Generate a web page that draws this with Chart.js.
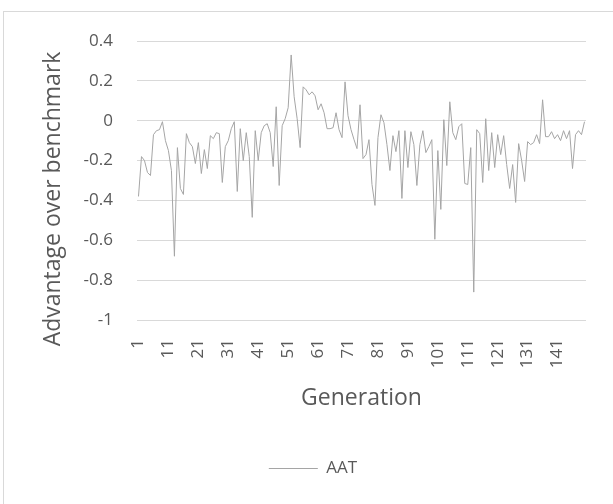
<!DOCTYPE html>
<html>
<head>
<meta charset="utf-8">
<script src="https://cdn.jsdelivr.net/npm/chart.js@4.4.1/dist/chart.umd.min.js"></script>
<style>
  html, body { margin: 0; padding: 0; background: #ffffff; overflow: hidden; }
  #frame { position: absolute; left: 3px; top: 11px; width: 620px; height: 500px; border: 1px solid #d9d9d9; }
  #wrap { position: absolute; left: 0; top: 0; width: 613px; height: 504px; }
</style>
</head>
<body>
<div id="frame"></div>
<div id="wrap"><canvas id="chart"></canvas></div>
<script>
// Generations 1..150 (category axis)
const generations = Array.from({ length: 150 }, (_, i) => i + 1);

// AAT advantage over benchmark
const aatValues = [
    -0.38, -0.18, -0.20, -0.26, -0.275, -0.07, -0.05, -0.045, -0.005, -0.10,
    -0.15, -0.25, -0.68, -0.135, -0.34, -0.37, -0.065, -0.11, -0.13, -0.215,
    -0.11, -0.265, -0.145, -0.24, -0.075, -0.09, -0.06, -0.065, -0.31, -0.13,
    -0.10, -0.04, -0.005, -0.355, -0.04, -0.20, -0.06, -0.18, -0.485, -0.05,
    -0.20, -0.06, -0.025, -0.015, -0.06, -0.23, 0.07, -0.325, -0.025, 0.01,
    0.065, 0.33, 0.12, 0.01, -0.135, 0.17, 0.155, 0.13, 0.145, 0.125,
    0.055, 0.085, 0.04, -0.04, -0.04, -0.035, 0.04, -0.045, -0.085, 0.195,
    0.025, -0.045, -0.095, -0.14, 0.08, -0.19, -0.17, -0.095, -0.32, -0.425,
    -0.085, 0.03, -0.01, -0.12, -0.25, -0.075, -0.155, -0.05, -0.39, -0.05,
    -0.235, -0.055, -0.12, -0.325, -0.12, -0.05, -0.16, -0.13, -0.095, -0.595,
    -0.15, -0.445, 0.005, -0.225, 0.095, -0.06, -0.095, -0.03, -0.015, -0.315,
    -0.32, -0.135, -0.86, -0.045, -0.065, -0.31, 0.01, -0.25, -0.06, -0.235,
    -0.07, -0.17, -0.075, -0.22, -0.34, -0.22, -0.41, -0.115, -0.20, -0.305,
    -0.105, -0.12, -0.11, -0.07, -0.115, 0.105, -0.08, -0.08, -0.055, -0.09,
    -0.07, -0.10, -0.05, -0.09, -0.05, -0.24, -0.07, -0.05, -0.07, -0.005
];

const seriesName = 'AAT';
const yTitle = 'Advantage over benchmark';
const xTitle = 'Generation';

const textColor = '#595959';
const gridColor = '#d9d9d9';
const lineColor = '#a5a5a5';
const fontFamily = "'Open Sans', 'Noto Sans', sans-serif";

// plot area edges
const plotLeft = 137;
const plotBottom = 320;
const padLeft = 40;
const padBottom = 17;

// y-axis title, drawn by hand so it sits where the original has it
const yTitlePlugin = {
    id: 'yTitle',
    afterDraw(chart) {
        const ctx = chart.ctx;
        ctx.save();
        ctx.translate(53, 199);
        ctx.rotate(-Math.PI / 2);
        ctx.fillStyle = textColor;
        ctx.font = `23px ${fontFamily}`;
        ctx.textAlign = 'center';
        ctx.textBaseline = 'middle';
        ctx.fillText(yTitle, 0, 0);
        ctx.restore();
    }
};

new Chart(document.getElementById('chart'), {
    type: 'line',
    data: {
        labels: generations,
        datasets: [{
            label: seriesName,
            data: aatValues,
            borderColor: lineColor,
            backgroundColor: lineColor,
            borderWidth: 1,
            pointRadius: 0,
            tension: 0,
            fill: false
        }]
    },
    options: {
        responsive: true,
        maintainAspectRatio: false,
        animation: false,
        layout: {
            padding: { left: padLeft, right: 27, top: 41, bottom: padBottom }
        },
        plugins: {
            legend: {
                display: true,
                position: 'bottom',
                labels: {
                    color: textColor,
                    font: { family: fontFamily, size: 17 },
                    usePointStyle: true,
                    pointStyle: 'line',
                    pointStyleWidth: 49,
                    padding: 10
                }
            },
            tooltip: { enabled: false }
        },
        scales: {
            x: {
                offset: true,
                grid: { display: false, drawTicks: false },
                border: { display: false },
                ticks: {
                    color: textColor,
                    font: { family: fontFamily, size: 17 },
                    autoSkip: false,
                    minRotation: 90,
                    maxRotation: 90,
                    padding: 19,
                    callback: function(value, index) {
                        return index % 10 === 0 ? this.getLabelForValue(value) : '';
                    }
                },
                title: {
                    display: true,
                    text: xTitle,
                    color: textColor,
                    font: { family: fontFamily, size: 23 },
                    padding: { top: 0, bottom: 38 }
                },
                afterFit(scale) {
                    const lg = scale.chart.legend;
                    scale.height = 504 - padBottom - (lg ? lg.height : 0) - plotBottom;
                    // keep the plot edges fixed, labels fit inside anyway
                    scale.paddingLeft = 0;
                    scale.paddingRight = 0;
                }
            },
            y: {
                min: -1,
                max: 0.4,
                grid: { color: gridColor, lineWidth: 1, drawTicks: false },
                border: { display: false },
                ticks: {
                    stepSize: 0.2,
                    color: textColor,
                    font: { family: fontFamily, size: 17 },
                    padding: 24,
                    callback: v => String(Math.round(v * 10) / 10)
                },
                afterFit(scale) {
                    scale.width = plotLeft - padLeft;
                }
            }
        }
    },
    plugins: [yTitlePlugin]
});
</script>
</body>
</html>
